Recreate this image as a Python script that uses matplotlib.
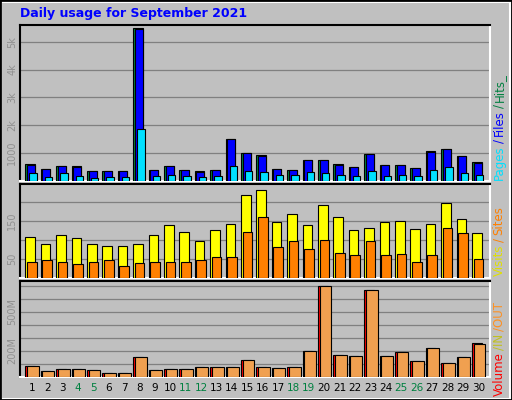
import matplotlib
matplotlib.use("Agg")
import matplotlib.pyplot as plt
from matplotlib.patches import Rectangle

days = list(range(1, 31))
weekend = [4, 5, 11, 12, 18, 19, 25, 26]
hits = [620,440,550,530,370,370,370,5480,410,550,410,370,410,1520,1020,950,440,410,770,770,620,520,980,590,590,480,1060,1160,910,700]
files = [590,420,530,500,350,350,350,5450,400,540,400,340,400,1500,1000,880,430,400,740,740,590,500,980,570,570,470,1050,1150,880,660]
pages = [300,160,300,190,120,160,160,1880,190,230,190,160,190,550,370,340,230,230,340,300,230,190,370,190,230,190,410,520,300,230]
visits = [109,90,114,104,90,85,85,90,114,138,122,98,127,143,219,232,148,169,138,193,161,127,132,146,151,130,143,198,156,117]
sites = [43,48,43,38,43,46,32,40,43,43,43,46,54,54,122,159,82,96,77,100,67,61,98,61,64,43,61,132,119,51]
vol_in = [85,46,62,62,54,31,31,154,54,62,62,77,77,77,131,77,69,77,200,700,169,162,669,162,192,123,223,108,154,262]
vol_out = [85,46,62,62,54,31,31,154,54,62,62,77,77,77,131,77,69,77,200,700,169,162,669,162,192,123,223,108,154,254]

BG = "#c0c0c0"
fig = plt.figure(figsize=(5.12, 4.0), dpi=100, facecolor=BG)
W, H = 512, 400

def ax_at(x0, y0, x1, y1):
    a = fig.add_axes([x0/W, 1-y1/H, (x1-x0)/W, (y1-y0)/H])
    a.set_facecolor(BG)
    a.set_xlim(0.24, 30.76)
    a.set_xticks([])
    for s in a.spines.values():
        s.set_color("white"); s.set_linewidth(1.5)
    a.spines['left'].set_color("black"); a.spines['top'].set_color("black")
    a.tick_params(axis='y', length=0, labelsize=7, labelcolor="#909090", pad=2)
    return a

def bars(a, vals, off, w, color):
    a.bar([d + off for d in days], vals, width=w, align='edge', color=color,
          edgecolor='black', linewidth=0.8, zorder=3)

def grid(a, step, top):
    v = step
    while v < top:
        a.axhline(v, color="#808080", linewidth=0.9, zorder=1)
        v += step

a1 = ax_at(20, 25, 490, 181)
a1.set_ylim(0, 5600)
grid(a1, 1000, 5600)
bars(a1, hits, -0.41, 0.62, "#008040")
bars(a1, files, -0.30, 0.51, "#0000ff")
bars(a1, pages, -0.15, 0.48, "#00e0ff")
a1.set_yticks([1000, 2000, 3000, 4000, 5000], ["1000", "2k", "3k", "4k", "5k"])

a2 = ax_at(20, 184, 490, 278)
a2.set_ylim(0, 247)
grid(a2, 50, 247)
bars(a2, visits, -0.41, 0.62, "#ffff00")
bars(a2, sites, -0.30, 0.62, "#ff8000")
a2.set_yticks([50, 150], ["50", "150"])

a3 = ax_at(20, 281, 490, 377)
a3.set_ylim(0, 738)
grid(a3, 100, 738)
bars(a3, vol_in, -0.41, 0.62, "#ff0000")
bars(a3, vol_out, -0.30, 0.76, "#f0a050")
a3.set_yticks([200, 500], ["200M", "500M"])

for a in (a1, a2, a3):
    for t in a.get_yticklabels():
        t.set_rotation(90); t.set_va("center")

for d in days:
    x = 20 + (d - 0.24) / 30.52 * 470
    fig.text(x/W, 1-388/H, str(d), ha='center', va='center', fontsize=7.5,
             color="#008040" if d in weekend else "black")

fig.text(20/W, 1-14/H, "Daily usage for September 2021", color="#0000ff",
         fontsize=9, fontweight='bold', va='center')

r = fig.canvas.get_renderer()
def side(y, parts):
    cur = 1 - y/H
    for s, c in parts:
        tt = fig.text(499/W, cur, s, rotation=90, color=c, fontsize=8.5,
                      ha='center', va='bottom')
        bb = tt.get_window_extent(renderer=r)
        cur += (bb.height + 2.5) / H

side(180, [("Pages", "#00e0ff"), ("/", "#0000ff"), ("Files", "#0000ff"), ("/", "#008040"), ("Hits_", "#008040")])
side(276, [("Visits", "#e0e000"), ("/", "#ff8000"), ("Sites", "#ff8000")])
side(396, [("Volume", "#ff0000"), ("/IN", "#c0c020"), ("/OUT", "#ff9020")])

fig.patches.append(Rectangle((1/W, 1/H), 1-3/W, 1-3/H, transform=fig.transFigure,
                             fill=False, edgecolor="white", linewidth=1.5))
fig.patches.append(Rectangle((0, 0), 1, 1, transform=fig.transFigure,
                             fill=False, edgecolor="black", linewidth=2))
fig.savefig("out.png", dpi=100, facecolor=BG)
